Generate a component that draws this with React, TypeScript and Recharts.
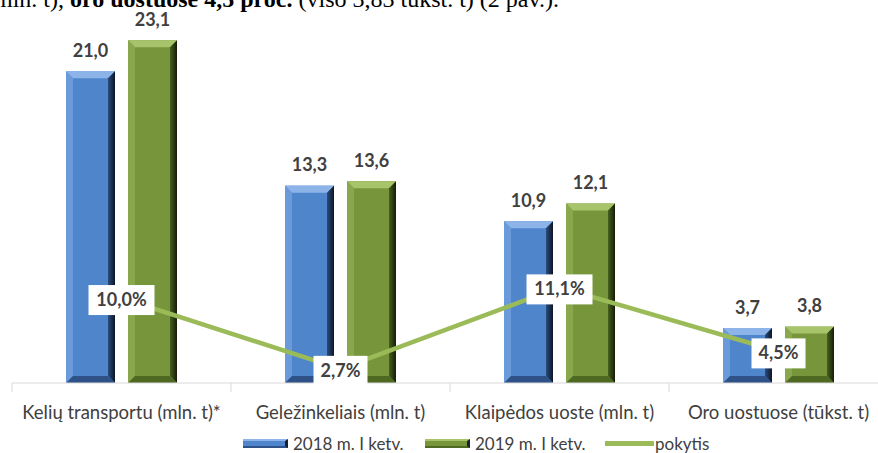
import React from "react";
import {
  ComposedChart,
  Bar,
  Line,
  XAxis,
  YAxis,
  Legend,
  LabelList,
} from "recharts";

const categories = [
  "Kelių transportu (mln. t)*",
  "Geležinkeliais (mln. t)",
  "Klaipėdos uoste (mln. t)",
  "Oro uostuose (tūkst. t)",
];
const values2018 = [21.0, 13.3, 10.9, 3.7];
const values2019 = [23.1, 13.6, 12.1, 3.8];
const changePct = [10.0, 2.7, 11.1, 4.5];

const seriesNames = ["2018 m. I ketv.", "2019 m. I ketv.", "pokytis"];

const data = categories.map((name, i) => ({
  name,
  y2018: values2018[i],
  y2019: values2019[i],
  change: changePct[i],
}));

const CHART_W = 900;
const CHART_H = 453;
const MARGIN = { top: 12, right: 12, left: 12, bottom: 0 };
const HALF_BAND = (CHART_W - MARGIN.left - MARGIN.right) / categories.length / 2;

const FONT = "Lato, 'Open Sans', sans-serif";

const palettes: Record<string, any> = {
  blue: { body: "#4F85CB", top: "#8DB4E8", left: "#6A9AD9", bottom: "#2E5187", grad: "gradBlue" },
  green: { body: "#77963B", top: "#A8C46B", left: "#89A84D", bottom: "#4E6922", grad: "gradGreen" },
};

// bar with an Excel-like bevel
function BevelBar(props: any) {
  const { x, y, width: w, height: h, pal } = props;
  if (!w || !h) return null;
  const b = Math.min(7, h / 2);
  return (
    <g>
      <rect x={x} y={y} width={w} height={h} fill={pal.body} />
      <polygon points={`${x},${y} ${x + w},${y} ${x + w - b},${y + b} ${x + b},${y + b}`} fill={pal.top} />
      <polygon points={`${x},${y} ${x + b},${y + b} ${x + b},${y + h - b} ${x},${y + h}`} fill={pal.left} />
      <polygon points={`${x + w},${y} ${x + w},${y + h} ${x + w - b},${y + h - b} ${x + w - b},${y + b}`} fill={`url(#${pal.grad})`} />
      <polygon points={`${x},${y + h} ${x + w},${y + h} ${x + w - b},${y + h - b} ${x + b},${y + h - b}`} fill={pal.bottom} />
    </g>
  );
}

const fmt = (v: number) => v.toFixed(1).replace(".", ",");

function BarValue(props: any) {
  const { x, y, width, value } = props;
  return (
    <text x={x + width / 2} y={y - 14.5} textAnchor="middle" fontFamily={FONT} fontWeight={700} fontSize={18} fill="#404040">
      {fmt(value)}
    </text>
  );
}

function PctLabel(props: any) {
  const { x, y, value } = props;
  const txt = fmt(value) + "%";
  const bw = txt.length * 12 + 6;
  return (
    <g>
      <rect x={x - bw / 2} y={y - 13} width={bw} height={30} fill="#ffffff" />
      <text x={x} y={y + 8} textAnchor="middle" fontFamily={FONT} fontWeight={700} fontSize={18} fill="#404040">
        {txt}
      </text>
    </g>
  );
}

function CategoryTick(props: any) {
  const { x, y, payload } = props;
  return (
    <g>
      <line x1={x - HALF_BAND} y1={y} x2={x - HALF_BAND} y2={y + 9} stroke="#d9d9d9" />
      <text x={x} y={y + 36} textAnchor="middle" fontFamily={FONT} fontSize={18.5} fill="#404040">
        {payload.value}
      </text>
    </g>
  );
}

function LegendContent() {
  const lx = (px: number) => px - MARGIN.left;
  const label = (left: number, text: string) => (
    <span style={{ position: "absolute", left: lx(left), top: 0, lineHeight: "18px" }}>{text}</span>
  );
  const box = (left: number, pal: any) => (
    <div
      style={{
        position: "absolute",
        left: lx(left),
        top: 4,
        width: 45,
        height: 9,
        boxSizing: "border-box",
        background: pal.body,
        borderTop: `2px solid ${pal.top}`,
        borderRight: `3px solid #1a2030`,
        borderBottom: `2px solid ${pal.bottom}`,
      }}
    />
  );
  return (
    <div style={{ position: "relative", height: 18, fontFamily: FONT, fontSize: 17, color: "#404040", whiteSpace: "nowrap" }}>
      {box(243, palettes.blue)}
      {label(293, seriesNames[0])}
      {box(425, palettes.green)}
      {label(475, seriesNames[1])}
      <div style={{ position: "absolute", left: lx(605), top: 6, width: 49, height: 5, background: "#9BBB59" }} />
      {label(655, seriesNames[2])}
    </div>
  );
}

export default function App() {
  return (
    <div style={{ position: "absolute", left: 0, top: 0, width: 878, height: 453, overflow: "hidden", background: "#fff" }}>
      <div
        style={{
          position: "absolute",
          left: -6,
          top: -13,
          fontFamily: "'Liberation Serif', serif",
          fontSize: 24,
          lineHeight: "24px",
          whiteSpace: "nowrap",
          color: "#000",
        }}
      >
        mln. t), <b>oro uostuose 4,5 proc.</b> (viso 3,83 tūkst. t) (2 pav.).
      </div>
      <ComposedChart width={CHART_W} height={CHART_H} data={data} margin={MARGIN} barSize={49} barGap={13}>
        <defs>
          <linearGradient id="gradBlue" x1="0" y1="0" x2="1" y2="0">
            <stop offset="0%" stopColor="#2B4C7C" />
            <stop offset="100%" stopColor="#0C1626" />
          </linearGradient>
          <linearGradient id="gradGreen" x1="0" y1="0" x2="1" y2="0">
            <stop offset="0%" stopColor="#46601F" />
            <stop offset="100%" stopColor="#151D07" />
          </linearGradient>
        </defs>
        <XAxis
          dataKey="name"
          height={52}
          tickSize={0}
          tickMargin={0}
          tickLine={false}
          axisLine={{ stroke: "#d9d9d9" }}
          tick={<CategoryTick />}
          interval={0}
        />
        <YAxis yAxisId="left" hide domain={[0, 25]} />
        <YAxis yAxisId="right" orientation="right" hide domain={[1.24, 39.5]} allowDataOverflow />
        <Legend verticalAlign="bottom" height={18} content={<LegendContent />} />
        <Bar
          yAxisId="left"
          dataKey="y2018"
          name={seriesNames[0]}
          fill={palettes.blue.body}
          shape={(p: any) => <BevelBar {...p} pal={palettes.blue} />}
          isAnimationActive={false}
        >
          <LabelList dataKey="y2018" content={<BarValue />} />
        </Bar>
        <Bar
          yAxisId="left"
          dataKey="y2019"
          name={seriesNames[1]}
          fill={palettes.green.body}
          shape={(p: any) => <BevelBar {...p} pal={palettes.green} />}
          isAnimationActive={false}
        >
          <LabelList dataKey="y2019" content={<BarValue />} />
        </Bar>
        <Line
          yAxisId="right"
          dataKey="change"
          name={seriesNames[2]}
          type="linear"
          stroke="#9BBB59"
          strokeWidth={4.5}
          dot={false}
          isAnimationActive={false}
        >
          <LabelList dataKey="change" content={<PctLabel />} />
        </Line>
      </ComposedChart>
    </div>
  );
}
